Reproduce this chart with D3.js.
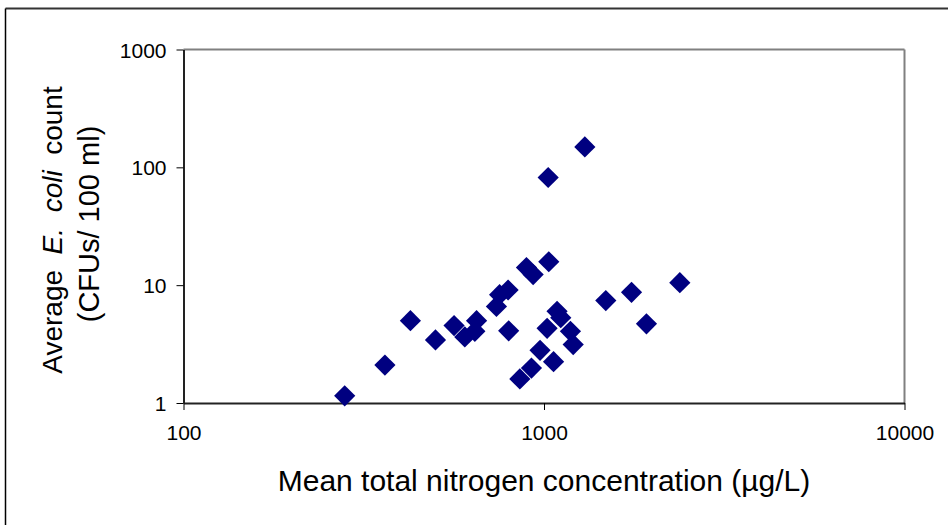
<!DOCTYPE html>
<html>
<head>
<meta charset="utf-8">
<script src="https://cdn.jsdelivr.net/npm/d3@7"></script>
<style>
  html, body { margin: 0; padding: 0; background: #fff; }
  svg { display: block; font-family: "Liberation Sans", Arial, sans-serif; }
  text { white-space: pre; }
</style>
</head>
<body>
<svg id="chart" width="948" height="525"></svg>
<script>
// Data
const nitrogen = [280, 362, 426, 500, 563, 603, 650, 643, 738, 753, 795, 798, 857, 923, 975, 1020, 1063, 1087, 1113, 1184, 1205, 894, 933, 1031, 1027, 1298, 1484, 1749, 1924, 2381];
const ecoli    = [1.15, 2.1, 5.0, 3.43, 4.54, 3.64, 5.0, 4.06, 6.6, 8.3, 9.1, 4.1, 1.6, 1.98, 2.8, 4.3, 2.24, 6.0, 5.3, 4.06, 3.13, 14.1, 12.3, 15.8, 82, 149, 7.4, 8.7, 4.7, 10.5];
const xTicks = [100, 1000, 10000];
const yTicks = [1, 10, 100, 1000];
const xTitle = "Mean total nitrogen concentration (µg/L)";

const svg = d3.select("#chart");

// outer frame
svg.append("line").attr("x1", 5.5).attr("y1", 8.5).attr("x2", 948).attr("y2", 8.5)
  .attr("stroke", "#333").attr("stroke-width", 2);
svg.append("line").attr("x1", 5.5).attr("y1", 8.5).attr("x2", 5.5).attr("y2", 525)
  .attr("stroke", "#000").attr("stroke-width", 1.5);

const L = 183.5, R = 904.5, T = 49.5, B = 403;
const x = d3.scaleLog().domain([100, 10000]).range([L, R]);
const y = d3.scaleLog().domain([1, 1000]).range([B, T]);

// top and right border (gray)
svg.append("line").attr("x1", L).attr("y1", T).attr("x2", R).attr("y2", T)
  .attr("stroke", "#808080").attr("stroke-width", 2);
svg.append("line").attr("x1", R).attr("y1", T).attr("x2", R).attr("y2", B)
  .attr("stroke", "#808080").attr("stroke-width", 2);

// axes
const xAxis = d3.axisBottom(x).tickValues(xTicks).tickFormat(d3.format("d")).tickSizeInner(7).tickSizeOuter(0).tickPadding(15);
const yAxis = d3.axisLeft(y).tickValues(yTicks).tickFormat(d3.format("d")).tickSizeInner(7).tickSizeOuter(0).tickPadding(10);

const gx = svg.append("g").attr("transform", `translate(0,${B})`).call(xAxis);
const gy = svg.append("g").attr("transform", `translate(${L},0)`).call(yAxis);
[gx, gy].forEach(g => {
  g.select(".domain").attr("stroke", "#222").attr("stroke-width", 2);
  g.selectAll(".tick line").attr("stroke", "#000").attr("stroke-width", 1);
  g.selectAll(".tick text").attr("fill", "#000").style("font-size", "21px")
    .style("font-family", "'Liberation Sans', Arial, sans-serif");
});
gy.selectAll(".tick text").attr("dy", "0.36em");

// points
const sym = d3.symbol().type(d3.symbolSquare).size(225);
svg.append("g").selectAll("path").data(nitrogen.map((n, i) => [n, ecoli[i]]))
  .join("path")
  .attr("d", sym)
  .attr("transform", d => `translate(${x(d[0])},${y(d[1])}) rotate(45)`)
  .attr("fill", "#000080");

// x title
svg.append("text").attr("x", 544).attr("y", 491)
  .attr("text-anchor", "middle").style("font-size", "30px").attr("fill", "#000")
  .text(xTitle);

// y title (two lines)
const cy = 230;
const yt1 = svg.append("text").attr("transform", `translate(62,${cy}) rotate(-90)`)
  .attr("text-anchor", "middle").style("font-size", "28px").attr("fill", "#000");
yt1.append("tspan").text("Average  ");
yt1.append("tspan").style("font-style", "italic").text("E.");
yt1.append("tspan").text("  ");
yt1.append("tspan").style("font-style", "italic").text("coli");
yt1.append("tspan").text("  count");
svg.append("text").attr("transform", `translate(99,${cy - 6}) rotate(-90)`)
  .attr("text-anchor", "middle").style("font-size", "29px").attr("fill", "#000")
  .text("(CFUs/ 100 ml)");
</script>
</body>
</html>
